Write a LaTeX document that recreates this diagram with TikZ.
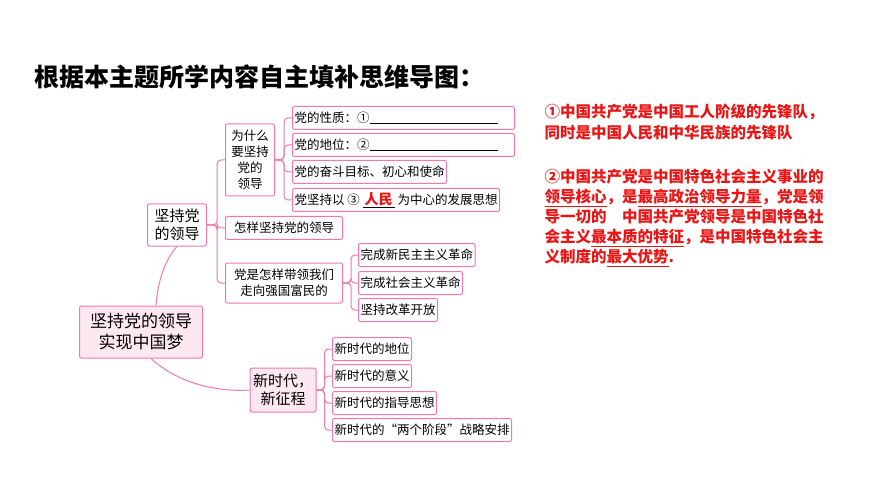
\documentclass[tikz,border=0pt]{standalone}
\usepackage{fontspec}
\setmainfont{Noto Sans CJK SC}
\definecolor{linkpink}{RGB}{240,120,170}
\definecolor{softpink}{RGB}{253,232,242}
\definecolor{ansred}{RGB}{235,20,20}
\begin{document}
\begin{tikzpicture}[x=1pt,y=-1pt,
    box/.style={draw=linkpink, line width=1pt, rounded corners=2pt, fill=white, inner sep=2pt, font=\fontsize{12.5}{14}\selectfont},
    leaf/.style={box, anchor=west, minimum height=23pt},
    hub/.style={box, fill=softpink, align=center, font=\fontsize{15}{18}\selectfont},
    link/.style={draw=linkpink, line width=1pt, rounded corners=4pt},
    answer/.style={anchor=west, text=ansred, font=\bfseries\fontsize{15.5}{21}\selectfont, align=left}]
  \useasboundingbox (0,0) rectangle (870,489);

  % Title
  \node[anchor=west, font=\bfseries\fontsize{25}{28}\selectfont] (title) at (31,77) {根据本主题所学内容自主填补思维导图：};

  % Root and hubs
  \node[hub, minimum width=123pt, minimum height=52pt, font=\fontsize{17}{21}\selectfont] (root) at (141,332) {坚持党的领导\\实现中国梦};
  \node[hub, fill=white, minimum width=59pt, minimum height=42pt] (lead) at (177,225) {坚持党\\的领导};
  \node[hub, minimum width=66pt, minimum height=44pt] (era) at (283,390) {新时代，\\新征程};

  % Branch: why
  \node[box, align=center, minimum width=49pt, minimum height=72pt, font=\fontsize{12.5}{16}\selectfont] (why) at (250,160) {为什么\\要坚持\\党的\\领导};
  \node[leaf, text width=218pt] (nature) at (292,118) {党的性质：①\underline{\hspace{128pt}}};
  \node[leaf, text width=218pt] (status) at (292,145) {党的地位：②\underline{\hspace{128pt}}};
  \node[leaf] (goal) at (292,172) {党的奋斗目标、初心和使命};
  \node[leaf] (people) at (292,200) {党坚持以 ③ \underline{\,\textcolor{ansred}{\bfseries\fontsize{14}{15}\selectfont 人民}\,} 为中心的发展思想};

  % Branch: how
  \node[leaf, minimum width=117pt] (how) at (225,228) {怎样坚持党的领导};
  \node[box, anchor=west, align=center, minimum width=117pt, minimum height=40pt, font=\fontsize{12.5}{16}\selectfont] (path) at (225,283) {党是怎样带领我们\\走向强国富民的};
  \node[leaf] (rev1) at (358,255) {完成新民主主义革命};
  \node[leaf] (rev2) at (358,283) {完成社会主义革命};
  \node[leaf] (reform) at (358,310) {坚持改革开放};

  % Branch: new era
  \node[leaf] (era1) at (332,349) {新时代的地位};
  \node[leaf] (era2) at (332,376) {新时代的意义};
  \node[leaf] (era3) at (332,403) {新时代的指导思想};
  \node[leaf] (era4) at (332,430) {新时代的“两个阶段”战略安排};

  % Connectors
  \draw[link] (root.north) ++(15,0) .. controls (158,280) and (165,260) .. (lead.south);
  \draw[link] (root.south) ++(10,0) .. controls (180,385) and (220,392) .. (era.west);
  \foreach \n in {why, how, path}
    \draw[link] (lead.east) -- ++(10,0) |- (\n.west);
  \foreach \n in {nature, status, goal, people}
    \draw[link] (why.east) -- ++(9,0) |- (\n.west);
  \foreach \n in {rev1, rev2, reform}
    \draw[link] (path.east) -- ++(8,0) |- (\n.west);
  \foreach \n in {era1, era2, era3, era4}
    \draw[link] (era.east) -- ++(8,0) |- (\n.west);

  % Answers
  \node[answer] (ans1) at (541,122) {①中国共产党是中国工人阶级的先锋队，\\同时是中国人民和中华民族的先锋队};
  \node[answer, font=\bfseries\fontsize{15.5}{20}\selectfont] (ans2) at (541,218) {②中国共产党是中国特色社会主义事业的\\\underline{领导核心}，是\underline{最高政治领导力量}，党是领\\导一切的\quad 中国共产党领导是中国特色社\\会主义\underline{最本质的特征}，是中国特色社会主\\义制度的\underline{最大优势}.};
\end{tikzpicture}
\end{document}
